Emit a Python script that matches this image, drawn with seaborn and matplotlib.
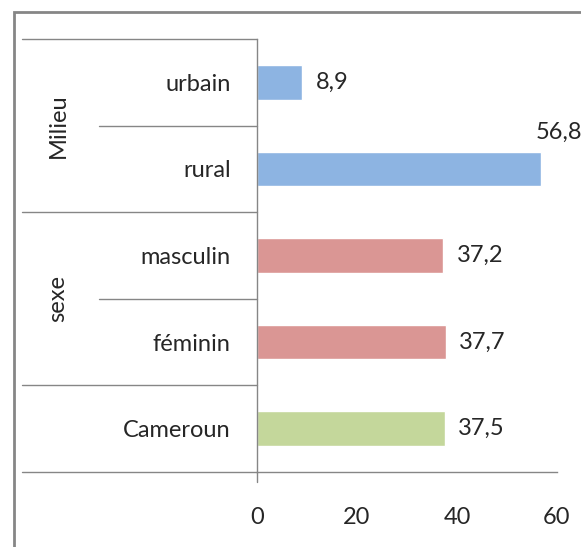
import matplotlib
matplotlib.use("Agg")
import matplotlib.pyplot as plt
import matplotlib.transforms as mtransforms
from matplotlib.patches import Rectangle
import pandas as pd
import seaborn as sns

# data
categories = ["urbain", "rural", "masculin", "féminin", "Cameroun"]
values = [8.9, 56.8, 37.2, 37.7, 37.5]
groups = ["Milieu", "Milieu", "sexe", "sexe", "total"]
group_colors = {"Milieu": "#8DB4E2", "sexe": "#DA9694", "total": "#C4D79B"}
x_ticks = [0, 20, 40, 60]

df = pd.DataFrame({"cat": categories, "val": values, "grp": groups})

sns.set_style("white")
plt.rcParams["font.family"] = ["Lato", "DejaVu Sans"]
FS = 17
GRAY = "#868686"

W, H = 581, 547
fig = plt.figure(figsize=(W / 100, H / 100), dpi=100)

# axes placed in pixel units of the reference
x0, x1, ytop, ybot = 257, 557, 39, 472
ax = fig.add_axes([x0 / W, (H - ybot) / H, (x1 - x0) / W, (ybot - ytop) / H])

sns.barplot(data=df, y="cat", x="val", hue="grp", palette=group_colors,
            orient="h", width=0.4, dodge=False, legend=False, saturation=1,
            ax=ax)

ax.set_xlim(0, 60)
ax.set_ylim(4.5, -0.5)
ax.set_xticks(x_ticks)
ax.set_xticklabels([str(t) for t in x_ticks], fontsize=FS)
ax.set_yticks(range(len(categories)))
ax.set_yticklabels(categories, fontsize=FS)
ax.set_xlabel("")
ax.set_ylabel("")
ax.tick_params(axis="x", length=7.2, width=1, color=GRAY, pad=18)
ax.tick_params(axis="y", length=0, pad=19)
for s in ["top", "right"]:
    ax.spines[s].set_visible(False)
for s in ["left", "bottom"]:
    ax.spines[s].set_color(GRAY)
    ax.spines[s].set_linewidth(1)

# value labels with comma decimals
for i, v in enumerate(values):
    txt = f"{v:.1f}".replace(".", ",")
    if v > 50:
        ax.annotate(txt, (v, i), xytext=(13, 26), textcoords="offset points",
                    ha="center", va="center", fontsize=FS)
    else:
        ax.annotate(txt, (v, i), xytext=(10, 0), textcoords="offset points",
                    ha="left", va="center", fontsize=FS)

# separator lines of the two-level category axis
blend = mtransforms.blended_transform_factory(fig.transFigure, ax.transData)
seps = [(-0.5, 22), (0.5, 99), (1.5, 22), (2.5, 99), (3.5, 22), (4.5, 22)]
for yy, xs in seps:
    ax.plot([xs / W, x0 / W], [yy, yy], transform=blend, color=GRAY,
            lw=1, clip_on=False)
# left axis line continues below the axis like the tick marks
ax.plot([0, 0], [4.5, 4.5 + 10 / (ybot - ytop) * 5], color=GRAY, lw=1,
        clip_on=False)

# group labels
for name, yc in [("Milieu", 0.5), ("sexe", 2.5)]:
    ax.text(58 / W, yc, name, transform=blend, rotation=90, ha="center",
            va="center", fontsize=FS)

# outer chart border, cut by the image edges
fig.patches.append(Rectangle((14 / W, -0.1), 1.2, (H - 12) / H + 0.1,
                             transform=fig.transFigure, fill=False,
                             edgecolor=GRAY, lw=2))

fig.savefig("out.png", dpi=100)
